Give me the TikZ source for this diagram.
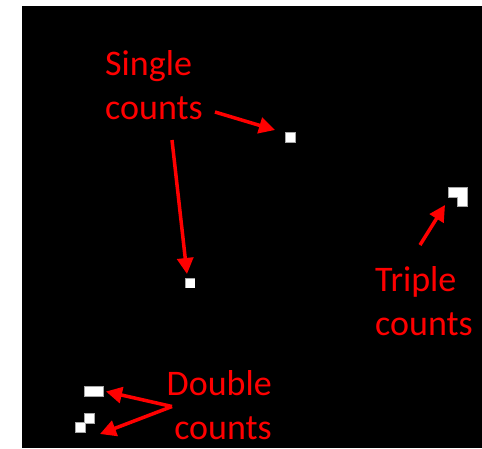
\documentclass[tikz,border=0pt]{standalone}
\usepackage{fontspec}
\setmainfont{Carlito}
\usetikzlibrary{arrows.meta}
\tikzset{
  lbl/.style={text=red,font=\fontsize{36}{44}\selectfont,inner sep=0pt},
  px/.style={fill=white,minimum size=9.2pt,inner sep=0pt,anchor=north west},
  arr/.style={red,line width=3.5pt,-{Triangle[length=16pt,width=16pt]}}
}
\begin{document}
\begin{tikzpicture}[x=1pt,y=-1pt]
  \useasboundingbox (0,0) rectangle (482,448);
  \fill[black] (22,6) rectangle (482,448);
  % grey rims under the hit pixels
  \foreach \x/\y in {286/133,185.5/278.5,449/188,458/188,458/197,85/387,94/387,85/414,76/423}{
    \fill[gray!70] (\x-0.7,\y-0.7) rectangle (\x+9.9,\y+9.9);}
  % hit pixels
  \node[px] (sa) at (286,133) {};
  \node[px] (sb) at (185.5,278.5) {};
  \foreach \x/\y [count=\k] in {449/188,458/188,458/197}{
    \node[px] (t\k) at (\x,\y) {};}
  \foreach \x/\y [count=\k] in {85/387,94/387}{
    \node[px] (dh\k) at (\x,\y) {};}
  \foreach \x/\y [count=\k] in {85/414,76/423}{
    \node[px] (dd\k) at (\x,\y) {};}
  % labels
  \node[lbl,align=left,anchor=base west] (single) at (105,119) {Single\\counts};
  \node[lbl,align=left,anchor=base west] (triple) at (375,335) {Triple\\counts};
  \node[lbl,align=right,anchor=base east] (double) at (272,439.5) {Double\\counts};
  % arrows
  \coordinate (sat) at (215,112);
  \coordinate (sbt) at (172,140);
  \coordinate (tt) at (420,245);
  \coordinate (dt) at (172,406.5);
  \coordinate (sah) at (275,130);
  \coordinate (sbh) at (187,274);
  \coordinate (th) at (445,205);
  \coordinate (dhh) at (106,391.5);
  \coordinate (ddh) at (100,434);
  \draw[arr] (sat) -- (sah);
  \draw[arr] (sbt) -- (sbh);
  \draw[arr] (tt) -- (th);
  \draw[arr] (dt) -- (dhh);
  \draw[arr] (dt) -- (ddh);
\end{tikzpicture}
\end{document}
